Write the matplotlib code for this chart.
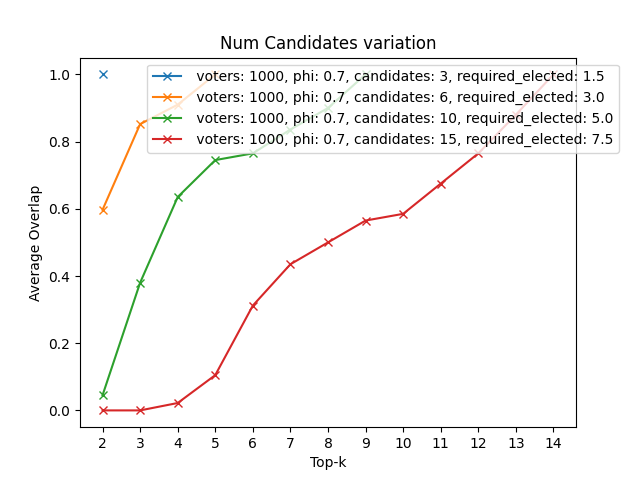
import matplotlib
matplotlib.use("Agg")
import matplotlib.pyplot as plt

# top-k values per candidate count
k_c3 = [2]
ov_c3 = [1.0]
k_c6 = [2, 3, 4, 5]
ov_c6 = [0.597, 0.852, 0.91, 1.0]
k_c10 = [2, 3, 4, 5, 6, 7, 8, 9]
ov_c10 = [0.045, 0.38, 0.635, 0.745, 0.765, 0.836, 0.90, 1.0]
k_c15 = [2, 3, 4, 5, 6, 7, 8, 9, 10, 11, 12, 13, 14]
ov_c15 = [0.0, 0.0, 0.022, 0.105, 0.312, 0.435, 0.5, 0.565, 0.585, 0.675, 0.765, 0.88, 1.0]

series = [
    (k_c3, ov_c3, " voters: 1000, phi: 0.7, candidates: 3, required_elected: 1.5"),
    (k_c6, ov_c6, " voters: 1000, phi: 0.7, candidates: 6, required_elected: 3.0"),
    (k_c10, ov_c10, " voters: 1000, phi: 0.7, candidates: 10, required_elected: 5.0"),
    (k_c15, ov_c15, " voters: 1000, phi: 0.7, candidates: 15, required_elected: 7.5"),
]

fig, ax = plt.subplots(figsize=(6.4, 4.8), dpi=100)
for k, ov, lab in series:
    ax.plot(k, ov, marker="x", label=lab)

ax.set_xticks(range(2, 15))
ax.set_xlabel("Top-k")
ax.set_ylabel("Average Overlap")
ax.set_title("Num Candidates variation")
ax.legend(loc="upper right", bbox_to_anchor=(1.1, 1))

fig.savefig("out.png")
